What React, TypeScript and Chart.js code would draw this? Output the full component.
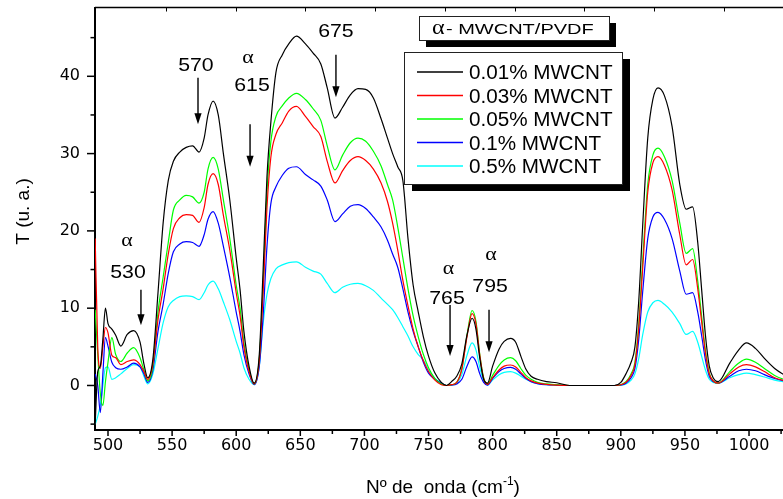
import React, { useEffect, useRef } from 'react';
import { Chart, registerables } from 'chart.js';

Chart.register(...registerables);

const W = 783;
const H = 499;

// wavenumber (cm-1)
const wavenumbers = [
  490, 492, 494, 496, 498, 500, 503, 506, 510, 515, 520, 525, 528, 531, 535,
  539, 543, 547, 551, 556, 561, 566, 571, 575, 578, 582, 586, 590, 595, 600, 603, 606, 610, 614,
  618, 621, 624, 627, 631, 636, 641, 647, 654, 660, 666, 671, 677, 683, 689, 695, 701, 707, 713, 718, 722, 726, 730, 734, 738, 742, 746, 750, 755, 760,
  764, 768, 772, 776, 780, 784, 787, 790, 793, 796, 800, 805, 809, 814, 818, 822, 826, 830, 835, 842, 850, 860,
  880, 895,
  900, 904, 908, 911, 914, 917, 921, 925, 929, 934, 940, 946, 951, 956, 960, 963, 966, 969, 972, 976, 985, 992, 998, 1005, 1012, 1020, 1030,
];

const t001 = [
  -5, 1.8, 2.5, 6, 10, 8, 7.3, 6.5, 5.1, 6.6, 7.1, 5.6, 2.8, 1.0, 3.4,
  12, 21, 26.5, 29, 30.2, 30.8, 31, 30.2, 32, 35, 36.8, 35, 30, 24, 16.5, 12.4, 7, 2.5, 0.3,
  4, 15, 27, 34, 40.5, 42.8, 44.2, 45.2, 44.2, 43, 41.6, 38.5, 34.6, 36, 37.6, 38.4, 38.3, 37.2, 34.5, 32, 30, 28.3, 26.5, 19, 13, 9.5, 6.3, 3.8, 1.6, 0.4,
  0, 0.5, 1.2, 2.8, 6.5, 8.7, 7.3, 3.5, 0.8, 0.3, 2.5, 4.7, 5.7, 6.1, 5.6, 3.8, 2.1, 1.2, 0.8, 0.5, 0.35, 0,
  0, 0,
  0.4, 1.5, 3, 5, 11, 20.5, 32, 37, 38.5, 37.5, 33.5, 26, 22.8, 23.1, 18.5, 12.5, 6.5, 2.5, 1.0, 0.5, 2.9, 4.6, 5.5, 4.8, 3.5, 2.2, 1.1,
];

const t003 = [
  19, 5, 2.2, 5, 7.5, 6.8, 3.9, 3.6, 2.7, 3.1, 3.3, 2.7, 1.8, 0.8, 2.8,
  8.5, 12.5, 17, 20.3, 21.7, 22.1, 22, 21.1, 23, 26, 27.4, 26, 22, 17.5, 12, 9, 5, 1.8, 0.2,
  3.2, 12, 23, 29.5, 32.5, 34, 35.5, 36.1, 34.8, 33.5, 32.2, 29, 26.2, 27.8, 29.1, 29.6, 29.1, 28, 26.2, 23.8, 21, 17.5, 13.6, 10.3, 7.3, 5, 3.2, 1.8, 0.7, 0.1,
  0, 0.1, 0.4, 2.1, 6.3, 9.3, 8, 3.9, 0.9, 0.15, 1, 2, 2.5, 2.65, 2.4, 1.7, 1.0, 0.6, 0.3, 0.15, 0.05, 0,
  0, 0,
  0.1, 0.4, 1.3, 2.7, 7.5, 15, 25, 28.8, 29.6, 28.5, 25.3, 19.5, 15.6, 16.3, 12.5, 8.3, 4.2, 1.5, 0.6, 0.3, 1.5, 2.4, 2.7, 2.4, 1.8, 1.0, 0.5,
];

const t005 = [
  9.8, 4, -1, -2.6, 0.5, 3, 6.2, 4, 3.1, 4.2, 4.9, 3.6, 2, 0.6, 2.5,
  9.5, 14, 18.5, 22.7, 24, 24.6, 24.4, 23.6, 25, 28, 29.5, 28, 24, 19, 13, 10, 5.5, 2, 0.2,
  3.5, 13, 25, 31.5, 34.8, 36.2, 37.2, 37.8, 37, 35.8, 34.3, 31, 27.9, 29.8, 31.4, 32, 31.6, 30.3, 28.4, 26, 24, 20.5, 16.5, 12.5, 9, 6.3, 4, 2.3, 0.9, 0.2,
  0, 0.1, 0.4, 2.2, 6.5, 9.7, 8.3, 4, 1, 0.2, 1.3, 2.6, 3.3, 3.6, 3.2, 2.2, 1.3, 0.8, 0.4, 0.2, 0.1, 0,
  0, 0,
  0.1, 0.5, 1.5, 3, 8, 16, 26, 29.8, 30.7, 29.6, 26.5, 21, 17.1, 17.7, 13.5, 9, 4.5, 1.6, 0.6, 0.3, 1.8, 2.9, 3.4, 3.0, 2.2, 1.3, 0.6,
];

const t01 = [
  1.5, 0, -3.5, 1.5, 6.2, 5.1, 3, 2.3, 2.1, 2.4, 2.9, 2.4, 1.5, 0.4, 2,
  7, 10.5, 14.5, 17.3, 18.3, 18.6, 18.5, 18, 19.5, 21.5, 22.5, 21, 18, 14, 9.5, 7, 4, 1.5, 0.1,
  2.5, 9, 18, 23.5, 25.7, 27.2, 28.1, 28.3, 27.3, 26.6, 25.8, 24, 21.2, 22.2, 23.2, 23.4, 22.9, 21.8, 20.5, 18.8, 17, 15.3, 12.5, 9.5, 7, 5, 3, 1.6, 0.8, 0.3,
  0, 0.05, 0.2, 0.8, 2.5, 3.7, 3.1, 1.5, 0.4, 0.05, 0.9, 1.8, 2.2, 2.35, 2.1, 1.5, 0.9, 0.5, 0.25, 0.1, 0.05, 0,
  0, 0,
  0.05, 0.3, 1, 2.2, 6, 12, 19, 21.8, 22.4, 21.5, 19, 14.8, 11.8, 12.0, 9.5, 6.5, 3.3, 1.2, 0.5, 0.3, 1.2, 1.9, 2.1, 1.9, 1.4, 0.9, 0.5,
];

const t05 = [
  -5, -4, -2.5, 0, 2.3, 2.4, 0.8, 1.0, 1.5, 2.2, 2.7, 2.4, 1.2, 0.2, 1.5,
  4.8, 8.1, 10.2, 11, 11.5, 11.6, 11.5, 11.1, 12, 13, 13.5, 12.5, 10.8, 8.5, 5.7, 4.2, 2.3, 0.8, 0.1,
  2.5, 8, 11.8, 13.8, 15.1, 15.6, 15.9, 16, 15.3, 14.8, 14.4, 13.2, 12, 12.7, 13.1, 13.2, 12.9, 12.3, 11.3, 10.5, 9.8, 8.8, 7.6, 6.4, 5, 4, 3.3, 2, 0.9, 0.3,
  0, 0.05, 0.3, 1.4, 3.9, 5.5, 4.6, 2.3, 0.6, 0.05, 0.7, 1.4, 1.7, 1.8, 1.6, 1.2, 0.8, 0.5, 0.25, 0.1, 0.05, 0,
  0, 0,
  0.05, 0.2, 0.7, 1.5, 3.5, 6.5, 9.5, 10.7, 11.0, 10.5, 9.5, 8, 6.6, 7.0, 5.6, 3.8, 2.0, 0.8, 0.4, 0.3, 1.0, 1.4, 1.6, 1.4, 1.1, 0.7, 0.4,
];

const seriesValues = [t001, t003, t005, t01, t05];
const seriesLabels = ['0.01% MWCNT', '0.03% MWCNT', '0.05% MWCNT', '0.1% MWCNT', '0.5% MWCNT'];
const seriesColors = ['#000000', '#ff0000', '#00ff00', '#0000ff', '#00ffff'];

const legendTitleAlpha = 'α';
const legendTitleText = '- MWCNT/PVDF';
const xTitleMain = 'Nº de  onda (cm';
const xTitleSup = '-1';
const xTitleEnd = ')';
const yTitle = 'T (u. a.)';

const X_MIN = 489.86;
const X_MAX = 1026.5;
const Y_MIN = -5.76;
const Y_MAX = 48.9;

// tick marks along the top frame (wavenumber units)
const topFrameTicks = [545, 599.6, 653.7, 708.3, 762.9, 817.5, 871.5, 926, 980.5];

// peak annotations in data units
const peakMarks = [
  { text: '530', alpha: true, textX: 515.6, textY: 14.7, alphaX: 514.8, alphaY: 18.6, arrowX: 525.7, arrowTop: 12.4, arrowTip: 7.8 },
  { text: '570', alpha: false, textX: 568.6, textY: 41.6, alphaX: 0, alphaY: 0, arrowX: 570.2, arrowTop: 39.8, arrowTip: 33.8 },
  { text: '615', alpha: true, textX: 612.3, textY: 39.0, alphaX: 609.2, alphaY: 42.2, arrowX: 610.8, arrowTop: 33.8, arrowTip: 28.3 },
  { text: '675', alpha: false, textX: 677.8, textY: 46.0, alphaX: 0, alphaY: 0, arrowX: 677.8, arrowTop: 42.8, arrowTip: 37.3 },
  { text: '765', alpha: true, textX: 764.4, textY: 11.4, alphaX: 765.6, alphaY: 14.9, arrowX: 766.8, arrowTop: 10.4, arrowTip: 3.8 },
  { text: '795', alpha: true, textX: 798.0, textY: 13.0, alphaX: 798.8, alphaY: 16.8, arrowX: 797.2, arrowTop: 9.8, arrowTip: 4.3 },
];

const SANS = '"Liberation Sans", Arial, sans-serif';
const SERIF = '"Liberation Serif", "Times New Roman", serif';

function stretchText(ctx: CanvasRenderingContext2D, text: string, x: number, baseline: number, sx: number, align: CanvasTextAlign) {
  ctx.save();
  ctx.translate(x, baseline);
  ctx.scale(sx, 1);
  ctx.textAlign = align;
  ctx.textBaseline = 'alphabetic';
  ctx.fillText(text, 0, 0);
  ctx.restore();
}

function seg(ctx: CanvasRenderingContext2D, x1: number, y1: number, x2: number, y2: number) {
  ctx.beginPath();
  ctx.moveTo(x1, y1);
  ctx.lineTo(x2, y2);
  ctx.stroke();
}

const decorPlugin = {
  id: 'decor',
  afterDraw(chart: any) {
    const { ctx, chartArea: a, scales } = chart;
    const xs = scales.x;
    const ys = scales.y;
    const X = (v: number) => xs.getPixelForValue(v);
    const Y = (v: number) => ys.getPixelForValue(v);
    ctx.save();
    ctx.strokeStyle = '#000';
    ctx.fillStyle = '#000';

    // top frame line and its inward ticks
    ctx.lineWidth = 1.5;
    seg(ctx, a.left, a.top, a.right, a.top);
    ctx.lineWidth = 1;
    topFrameTicks.forEach((v) => {
      const px = Math.round(X(v)) + 0.5;
      seg(ctx, px, a.top, px, a.top + 4);
    });

    // axis tick marks (major/minor)
    ctx.lineWidth = 1.5;
    ys.ticks.forEach((t: any) => {
      const py = Y(t.value);
      const major = Math.abs(t.value - Math.round(t.value / 10) * 10) < 1e-6;
      seg(ctx, a.left - (major ? 8 : 4.5), py, a.left, py);
    });
    xs.ticks.forEach((t: any) => {
      const px = X(t.value);
      const major = Math.abs(t.value - Math.round(t.value / 50) * 50) < 1e-6;
      seg(ctx, px, a.bottom, px, a.bottom + (major ? 6 : 4));
    });

    // peak annotations
    peakMarks.forEach((m) => {
      ctx.fillStyle = '#000';
      ctx.font = `18.5px ${SANS}`;
      stretchText(ctx, m.text, X(m.textX), Y(m.textY) + 6.6, 1.15, 'center');
      if (m.alpha) {
        ctx.font = `19px ${SERIF}`;
        stretchText(ctx, 'α', X(m.alphaX), Y(m.alphaY) + 4, 1.15, 'center');
      }
      const ax = X(m.arrowX);
      const y0 = Y(m.arrowTop);
      const y1 = Y(m.arrowTip);
      ctx.lineWidth = 1.4;
      seg(ctx, ax, y0, ax, y1 - 9);
      ctx.beginPath();
      ctx.moveTo(ax - 3.6, y1 - 11);
      ctx.lineTo(ax + 3.6, y1 - 11);
      ctx.lineTo(ax, y1);
      ctx.closePath();
      ctx.fill();
    });

    // legend title box
    const TX = 419, TY = 16, TW = 190, TH = 24;
    ctx.fillStyle = '#000';
    ctx.fillRect(TX + 7, TY + 7, TW, TH);
    ctx.fillStyle = '#fff';
    ctx.fillRect(TX, TY, TW, TH);
    ctx.strokeStyle = '#222';
    ctx.lineWidth = 1;
    ctx.strokeRect(TX + 0.5, TY + 0.5, TW, TH);
    ctx.fillStyle = '#000';
    ctx.font = `21px ${SERIF}`;
    stretchText(ctx, legendTitleAlpha, 432, 34.3, 1.15, 'left');
    ctx.font = `15.5px ${SANS}`;
    stretchText(ctx, legendTitleText, 446, 34.3, 1.29, 'left');

    // legend box
    const LX = 404, LY = 52, LW = 218, LH = 132;
    ctx.fillStyle = '#000';
    ctx.fillRect(LX + 8, LY + 7, LW, LH);
    ctx.fillStyle = '#fff';
    ctx.fillRect(LX, LY, LW, LH);
    ctx.strokeStyle = '#222';
    ctx.lineWidth = 1;
    ctx.strokeRect(LX + 0.5, LY + 0.5, LW, LH);
    chart.data.datasets.forEach((ds: any, i: number) => {
      const ry = 72 + i * 23.5;
      ctx.strokeStyle = ds.borderColor;
      ctx.lineWidth = 1.4;
      seg(ctx, 417, ry, 463, ry);
      ctx.fillStyle = '#000';
      ctx.font = `19.5px ${SANS}`;
      stretchText(ctx, ds.label, 469, ry + 7, 1.06, 'left');
    });

    // x axis title with superscript
    ctx.fillStyle = '#000';
    ctx.font = `19px ${SANS}`;
    const wMain = ctx.measureText(xTitleMain).width;
    const wEnd = ctx.measureText(xTitleEnd).width;
    ctx.font = `12px ${SANS}`;
    const wSup = ctx.measureText(xTitleSup).width;
    const total = wMain + wSup + wEnd;
    const cx = (a.left + a.right) / 2 + 4;
    let xx = cx - total / 2;
    const base = 492.5;
    ctx.font = `19px ${SANS}`;
    stretchText(ctx, xTitleMain, xx, base, 1, 'left');
    xx += wMain;
    ctx.font = `12px ${SANS}`;
    stretchText(ctx, xTitleSup, xx, base - 8, 1, 'left');
    xx += wSup;
    ctx.font = `19px ${SANS}`;
    stretchText(ctx, xTitleEnd, xx, base, 1, 'left');

    // y axis title
    ctx.save();
    ctx.translate(29, 211.5);
    ctx.rotate(-Math.PI / 2);
    ctx.font = `19px ${SANS}`;
    ctx.textAlign = 'center';
    ctx.textBaseline = 'alphabetic';
    ctx.fillText(yTitle, 0, 0);
    ctx.restore();

    ctx.restore();
  },
};

export default function App() {
  const ref = useRef<HTMLCanvasElement>(null);
  useEffect(() => {
    const canvas = ref.current;
    if (!canvas) return;
    const chart = new Chart(canvas, {
      type: 'line',
      data: {
        datasets: seriesValues.map((vals, i) => ({
          label: seriesLabels[i],
          data: wavenumbers.map((x, j) => ({ x, y: vals[j] })),
          borderColor: seriesColors[i],
          backgroundColor: seriesColors[i],
          borderWidth: 1.2,
          pointRadius: 0,
          fill: false,
          cubicInterpolationMode: 'monotone' as const,
        })),
      },
      options: {
        responsive: false,
        animation: false,
        devicePixelRatio: 1,
        events: [],
        layout: { padding: { top: 7.5, right: 0, bottom: 0, left: 0 } },
        plugins: { legend: { display: false }, tooltip: { enabled: false } },
        scales: {
          x: {
            type: 'linear',
            min: X_MIN,
            max: X_MAX,
            afterFit: (s: any) => { s.height = 69; s.paddingLeft = 0; s.paddingRight = 0; },
            grid: { display: false, drawTicks: false },
            border: { display: true, color: '#000', width: 2 },
            ticks: {
              stepSize: 25,
              includeBounds: false,
              autoSkip: false,
              maxRotation: 0,
              padding: 6,
              color: '#000',
              font: { family: '"DejaVu Sans", sans-serif', size: 16 },
              callback: (v: any) => (Math.abs(v - Math.round(v / 50) * 50) < 1e-6 ? String(Math.round(v)) : ''),
            },
          },
          y: {
            type: 'linear',
            min: Y_MIN,
            max: Y_MAX,
            afterFit: (s: any) => { s.width = 95; s.paddingTop = 0; s.paddingBottom = 0; },
            grid: { display: false, drawTicks: false },
            border: { display: true, color: '#000', width: 2 },
            ticks: {
              stepSize: 5,
              includeBounds: false,
              autoSkip: false,
              padding: 15,
              color: '#000',
              font: { family: '"DejaVu Sans", sans-serif', size: 16 },
              callback: (v: any) => (Math.abs(v - Math.round(v / 10) * 10) < 1e-6 ? String(Math.round(v)) : ''),
            },
          },
        },
      },
      plugins: [decorPlugin],
    });
    return () => chart.destroy();
  }, []);
  return (
    <div style={{ position: 'fixed', left: 0, top: 0, width: W, height: H, background: '#fff' }}>
      <canvas ref={ref} width={W} height={H} style={{ display: 'block' }} />
    </div>
  );
}
